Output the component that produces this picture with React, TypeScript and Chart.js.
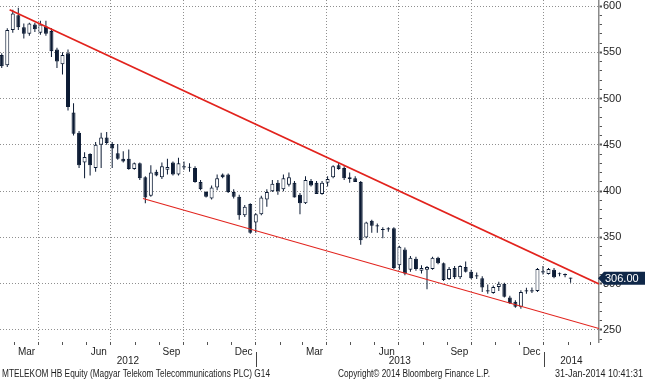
import React, { useEffect, useRef } from 'react';
import { Chart, registerables } from 'chart.js';

Chart.register(...registerables);

// ---- data -------------------------------------------------------------
const FIRST_WEEK_ENDING = '2012-02-10';

const OPEN = [
  547, 536, 574, 590, 577, 570, 580, 571, 578, 573, 553, 537, 549, 485, 463, 431, 440, 425, 450, 458,
  451, 441, 435, 435, 424, 430, 415, 395, 421, 415, 423, 431, 418, 426, 426, 425, 410, 399, 392, 404,
  418, 418, 399, 394, 374, 386, 366, 375, 391, 400, 409, 402, 407, 409, 396, 387, 411, 409, 397, 409,
  415, 428, 425, 415, 414, 410, 350, 368, 362, 358, 359, 360, 320, 337, 315, 327, 314, 315, 316, 328,
  322, 305, 317, 307, 318, 313, 308, 306, 292, 290, 296.5, 300, 285, 280.5, 275, 292, 292, 292, 312.5, 310.5,
  315, 310.5, 309.5, 306,
];
const HIGH = [
  549, 576, 596, 598, 581, 582, 582, 584, 584, 576, 555, 550, 553, 495, 465, 442, 441, 453, 463, 464,
  453, 451, 443, 445, 431, 431, 416, 428, 423, 431, 435, 432, 436, 432, 430, 427, 412, 400, 406, 418,
  419, 419, 402, 396, 385, 387, 376, 395, 402, 412, 412, 418, 420, 411, 398, 416, 413, 411, 411, 416,
  428, 431, 427, 420, 416, 411, 367, 369, 365, 361, 361, 361, 341, 339, 330, 329, 320, 319, 329, 329,
  323, 318, 319, 320, 324, 315, 312, 308, 299, 298, 302, 301, 287, 282, 293, 295.5, 296, 317, 319, 317,
  317, 312, 311, 306.5,
];
const LOW = [
  533, 534, 571, 574, 565, 568, 572, 569, 568, 545, 533, 526, 487, 460, 425, 414, 417, 421, 425, 450,
  425, 434, 431, 423, 423, 412, 387, 394, 416, 413, 418, 417, 417, 423, 421, 409, 401, 393, 391, 401,
  414, 398, 392, 369, 372, 354, 355, 374, 383, 399, 396, 400, 405, 393, 375, 386, 405, 397, 396, 405,
  414, 423, 412, 409, 410, 342, 349, 355, 355, 349, 356, 316, 315, 309, 313, 314, 311, 294, 315, 321,
  303, 304, 305, 305, 312, 305, 305, 291, 289, 289, 292, 285, 278, 274, 273, 289, 290, 291, 310, 310,
  306, 308, 307, 301,
];
const CLOSE = [
  535, 574, 592, 577, 570, 581, 575, 580, 570, 551, 540, 547, 491, 462, 428, 437, 428, 450, 458, 452,
  446, 435, 432, 424, 430, 414, 393, 420, 417, 427, 426, 418, 430, 426.5, 425.5, 410, 402, 394, 404, 414,
  415, 399, 394, 374, 383, 355, 375, 393, 399, 408, 400, 414, 415, 393, 387, 412, 406, 397, 409, 413,
  427, 424, 414, 413, 410, 347, 366, 362.5, 363, 359, 359.5, 317, 340, 311, 328, 316, 317, 318, 328, 322,
  304, 316, 307, 319, 313, 306, 309, 296, 292.5, 296.5, 300, 286, 279, 275, 291, 292.5, 292.5, 316, 313, 316,
  307, 311, 310, 306,
];

const UPPER_TREND_DATES = ['2012-02-24', '2014-03-12'];
const UPPER_TREND_VALUES = [596, 299.7];
const LOWER_TREND_DATES = ['2012-08-11', '2014-03-12'];
const LOWER_TREND_VALUES = [392, 251.6];

const VIEW_START = '2012-02-11T19:12';
const VIEW_END = '2014-03-12';
const Y_MIN = 237;
const Y_MAX = 606.5;
const Y_LABEL_STEP = 50;
const Y_MINOR_STEP = 10;
const MONTH_NAMES = ['Jan', 'Feb', 'Mar', 'Apr', 'May', 'Jun', 'Jul', 'Aug', 'Sep', 'Oct', 'Nov', 'Dec'];
const LABELED_MONTHS = ['Mar', 'Jun', 'Sep', 'Dec'];
const YEARS = [2012, 2013, 2014];

const FOOTER_LEFT = 'MTELEKOM HB Equity (Magyar Telekom Telecommunications PLC) G14';
const FOOTER_MID = 'Copyright\u00a9 2014 Bloomberg Finance L.P.';
const FOOTER_RIGHT = '31-Jan-2014 10:41:31';

// ---- style ------------------------------------------------------------
const NAVY = '#0b1a33';
const RED = '#e2231d';
const GRID = '#8f8f8f';
const TEXT = '#1e1e1e';
const AXIS = '#8a8a8a';
const BADGE = '#0f2748';
const FONT = '"Liberation Sans", Arial, sans-serif';
const BAR_CENTER_OFFSET_DAYS = 4;

// ---- helpers ----------------------------------------------------------
const DAY_MS = 86400000;
const EPOCH = Date.UTC(2012, 0, 1);
const toDay = (s: string) => (Date.parse(s.length <= 10 ? s + 'T00:00:00Z' : s + 'Z') - EPOCH) / DAY_MS;

const X_MIN = toDay(VIEW_START);
const X_MAX = toDay(VIEW_END);

function buildMonthTicks() {
  const ticks: any[] = [];
  YEARS.forEach((yr) => {
    for (let m = 0; m < 12; m++) {
      const start = (Date.UTC(yr, m, 1) - EPOCH) / DAY_MS;
      const next = (Date.UTC(yr, m + 1, 1) - EPOCH) / DAY_MS;
      const mid = (start + next) / 2;
      if (start >= X_MIN && start <= X_MAX) {
        ticks.push({ value: start, kind: 'start', quarter: m % 3 === 0, text: '' });
      }
      const name = MONTH_NAMES[m];
      if (LABELED_MONTHS.includes(name) && mid >= X_MIN && mid <= X_MAX) {
        ticks.push({ value: mid, kind: 'label', quarter: false, text: name });
      }
    }
  });
  return ticks.sort((a, b) => a.value - b.value);
}

function buildYTicks() {
  const t: any[] = [];
  for (let v = Math.ceil(Y_MIN / Y_MINOR_STEP) * Y_MINOR_STEP; v <= Y_MAX; v += Y_MINOR_STEP) {
    t.push({ value: v });
  }
  return t;
}

const overlayPlugin = {
  id: 'bbgOverlay',
  afterDraw(chart: any) {
    const { ctx, chartArea, scales } = chart;
    const xs = scales.x;
    const ys = scales.y;
    ctx.save();
    // year row
    ctx.font = `10px ${FONT}`;
    ctx.fillStyle = TEXT;
    ctx.textAlign = 'center';
    ctx.textBaseline = 'middle';
    YEARS.forEach((yr) => {
      const ys0 = (Date.UTC(yr, 0, 1) - EPOCH) / DAY_MS;
      const ye0 = (Date.UTC(yr + 1, 0, 1) - EPOCH) / DAY_MS;
      const s = Math.max(ys0, xs.min);
      const e = Math.min(ye0, xs.max);
      if (e <= s) return;
      const cx = (xs.getPixelForValue(s) + xs.getPixelForValue(e)) / 2;
      ctx.fillText(String(yr), cx, 361);
      if (ys0 > xs.min) {
        const px = Math.round(xs.getPixelForValue(ys0)) + 0.5;
        ctx.strokeStyle = '#444';
        ctx.lineWidth = 1;
        ctx.beginPath();
        ctx.moveTo(px, 352);
        ctx.lineTo(px, 367);
        ctx.stroke();
      }
    });
    // footer
    ctx.textAlign = 'left';
    ctx.fillText(FOOTER_LEFT, 2, 374, 268);
    ctx.fillText(FOOTER_MID, 338, 374, 152);
    ctx.textAlign = 'right';
    ctx.fillText(FOOTER_RIGHT, 643, 374, 88);
    // last price badge
    const last = CLOSE[CLOSE.length - 1];
    const py = ys.getPixelForValue(last);
    const bx = chartArea.right;
    ctx.fillStyle = BADGE;
    ctx.beginPath();
    ctx.moveTo(bx - 1, py);
    ctx.lineTo(bx + 5, py - 6.5);
    ctx.lineTo(chart.width, py - 6.5);
    ctx.lineTo(chart.width, py + 6.5);
    ctx.lineTo(bx + 5, py + 6.5);
    ctx.closePath();
    ctx.fill();
    ctx.fillStyle = '#ffffff';
    ctx.textAlign = 'left';
    ctx.font = `11px ${FONT}`;
    ctx.fillText(last.toFixed(2), bx + 6, py + 0.5);
    ctx.restore();
  },
};

export default function App() {
  const canvasRef = useRef<HTMLCanvasElement | null>(null);

  useEffect(() => {
    const canvas = canvasRef.current;
    if (!canvas) return;

    const firstDay = toDay(FIRST_WEEK_ENDING);
    const centers = CLOSE.map((_, i) => firstDay + 7 * i + BAR_CENTER_OFFSET_DAYS);
    const MIN_BODY = 1.2;
    const wickData = centers.map((x, i) => ({ x, y: [LOW[i], HIGH[i]] }));
    const bodyData = centers.map((x, i) => {
      let lo = Math.min(OPEN[i], CLOSE[i]);
      let hi = Math.max(OPEN[i], CLOSE[i]);
      if (hi - lo < MIN_BODY) {
        const m = (lo + hi) / 2;
        lo = m - MIN_BODY / 2;
        hi = m + MIN_BODY / 2;
      }
      return { x, y: [lo, hi] };
    });
    const bodyFill = CLOSE.map((c, i) => (c > OPEN[i] ? '#ffffff' : NAVY));

    const monthTicks = buildMonthTicks();
    const yTicks = buildYTicks();

    const chart = new Chart(canvas, {
      type: 'bar',
      data: {
        datasets: [
          {
            type: 'line',
            data: UPPER_TREND_DATES.map((d, i) => ({ x: toDay(d), y: UPPER_TREND_VALUES[i] })),
            borderColor: RED,
            borderWidth: 1.8,
            pointRadius: 0,
            tension: 0,
            order: 0,
          } as any,
          {
            type: 'line',
            data: LOWER_TREND_DATES.map((d, i) => ({ x: toDay(d), y: LOWER_TREND_VALUES[i] })),
            borderColor: RED,
            borderWidth: 1.1,
            pointRadius: 0,
            tension: 0,
            order: 0,
          } as any,
          {
            type: 'bar',
            data: bodyData,
            backgroundColor: bodyFill,
            borderColor: NAVY,
            borderWidth: 1,
            borderSkipped: false,
            grouped: false,
            maxBarThickness: 4,
            order: 1,
          } as any,
          {
            type: 'bar',
            data: wickData,
            backgroundColor: NAVY,
            borderWidth: 0,
            grouped: false,
            maxBarThickness: 1,
            inflateAmount: 0,
            order: 2,
          } as any,
        ],
      },
      options: {
        responsive: false,
        devicePixelRatio: 1,
        animation: false,
        events: [],
        layout: { padding: 0, autoPadding: false },
        plugins: { legend: { display: false }, tooltip: { enabled: false } },
        scales: {
          x: {
            type: 'linear',
            min: X_MIN,
            max: X_MAX,
            offset: false,
            afterBuildTicks: (scale: any) => {
              scale.ticks = monthTicks.map((t) => ({ ...t }));
            },
            afterFit: (scale: any) => {
              scale.height = 38;
              scale.paddingLeft = 0;
              scale.paddingRight = 0;
            },
            grid: {
              offset: false,
              drawOnChartArea: true,
              drawTicks: true,
              tickLength: 3,
              lineWidth: 1,
              color: (ctx: any) => (ctx.tick && ctx.tick.kind === 'start' && ctx.tick.quarter ? GRID : 'rgba(0,0,0,0)'),
              tickColor: (ctx: any) => (ctx.tick && ctx.tick.kind === 'start' ? '#555555' : 'rgba(0,0,0,0)'),
            },
            border: { display: false, dash: [1, 2] },
            ticks: {
              autoSkip: false,
              maxRotation: 0,
              minRotation: 0,
              padding: 1,
              color: TEXT,
              font: { family: FONT, size: 10 },
              callback: (_v: any, i: number, ticks: any[]) => (ticks[i] && ticks[i].text) || '',
            },
          },
          y: {
            type: 'linear',
            position: 'right',
            min: Y_MIN,
            max: Y_MAX,
            beginAtZero: false,
            afterBuildTicks: (scale: any) => {
              scale.ticks = yTicks.map((t) => ({ ...t }));
            },
            afterFit: (scale: any) => {
              scale.width = 46;
              scale.paddingTop = 0;
              scale.paddingBottom = 0;
            },
            grid: {
              drawOnChartArea: true,
              drawTicks: true,
              tickLength: 3,
              lineWidth: 1,
              color: (ctx: any) => (ctx.tick && ctx.tick.value % Y_LABEL_STEP === 0 ? GRID : 'rgba(0,0,0,0)'),
              tickColor: '#555555',
              tickWidth: (ctx: any) => (ctx.tick && ctx.tick.value % Y_LABEL_STEP === 0 ? 2 : 1),
            },
            border: { display: true, color: AXIS, width: 1.5, dash: [1, 2] },
            ticks: {
              autoSkip: false,
              padding: 1,
              color: TEXT,
              font: { family: FONT, size: 11 },
              callback: (v: any) => (Number(v) % Y_LABEL_STEP === 0 ? String(v) : ''),
            },
          },
        },
      } as any,
      plugins: [overlayPlugin],
    });

    return () => chart.destroy();
  }, []);

  return (
    <div style={{ position: 'absolute', left: 0, top: 0, width: 645, height: 380, background: '#ffffff' }}>
      <canvas ref={canvasRef} width={645} height={380} style={{ display: 'block' }} />
    </div>
  );
}
